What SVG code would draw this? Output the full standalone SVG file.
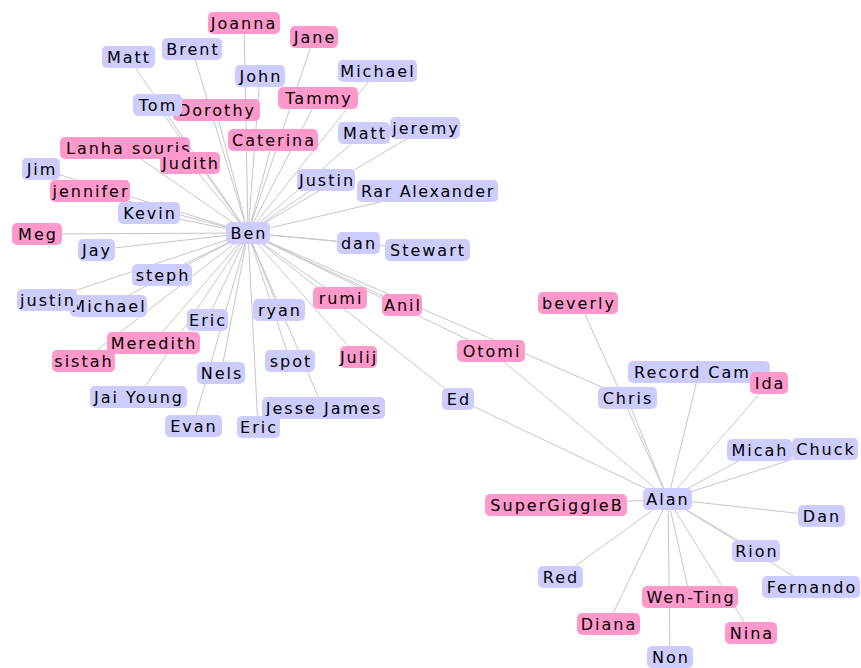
<svg xmlns="http://www.w3.org/2000/svg" width="861" height="668" viewBox="0 0 861 668">
<style>
.e line{stroke:#c6c6c6;stroke-width:1}
rect{rx:5;ry:5}
.b rect{fill:#ccccff}
.p rect{fill:#ff99cc}
text{font-family:"DejaVu Sans","Verdana",sans-serif;font-size:16px;letter-spacing:2px;fill:#000;text-anchor:middle}
text.l{text-anchor:start}
</style>
<rect width="861" height="668" fill="#ffffff" rx="0" ry="0"/>
<g id="connectors" class="e">
<line x1="248" y1="233" x2="244" y2="23"/>
<line x1="248" y1="233" x2="314" y2="37"/>
<line x1="248" y1="233" x2="128" y2="57"/>
<line x1="248" y1="233" x2="192" y2="49"/>
<line x1="248" y1="233" x2="260" y2="76"/>
<line x1="248" y1="233" x2="377" y2="71"/>
<line x1="248" y1="233" x2="157" y2="105"/>
<line x1="248" y1="233" x2="216" y2="110"/>
<line x1="248" y1="233" x2="318" y2="98"/>
<line x1="248" y1="233" x2="273" y2="140"/>
<line x1="248" y1="233" x2="364" y2="133"/>
<line x1="248" y1="233" x2="425" y2="128"/>
<line x1="248" y1="233" x2="125" y2="148"/>
<line x1="248" y1="233" x2="190" y2="163"/>
<line x1="248" y1="233" x2="326" y2="180"/>
<line x1="248" y1="233" x2="427" y2="191"/>
<line x1="248" y1="233" x2="41" y2="169"/>
<line x1="248" y1="233" x2="90" y2="191"/>
<line x1="248" y1="233" x2="149" y2="213"/>
<line x1="248" y1="233" x2="37" y2="234"/>
<line x1="248" y1="233" x2="96" y2="250"/>
<line x1="248" y1="233" x2="162" y2="275"/>
<line x1="248" y1="233" x2="47" y2="300"/>
<line x1="248" y1="233" x2="108" y2="306"/>
<line x1="248" y1="233" x2="207" y2="320"/>
<line x1="248" y1="233" x2="153" y2="343"/>
<line x1="248" y1="233" x2="83" y2="361"/>
<line x1="248" y1="233" x2="221" y2="373"/>
<line x1="248" y1="233" x2="138" y2="397"/>
<line x1="248" y1="233" x2="193" y2="426"/>
<line x1="248" y1="233" x2="258" y2="427"/>
<line x1="248" y1="233" x2="279" y2="310"/>
<line x1="248" y1="233" x2="290" y2="361"/>
<line x1="248" y1="233" x2="323" y2="408"/>
<line x1="248" y1="233" x2="358" y2="243"/>
<line x1="248" y1="233" x2="427" y2="250"/>
<line x1="248" y1="233" x2="340" y2="298"/>
<line x1="248" y1="233" x2="358" y2="357"/>
<line x1="248" y1="233" x2="402" y2="305"/>
<line x1="248" y1="233" x2="491" y2="351"/>
<line x1="248" y1="233" x2="458" y2="399"/>
<line x1="248" y1="233" x2="627" y2="398"/>
<line x1="668" y1="499" x2="458" y2="399"/>
<line x1="668" y1="499" x2="491" y2="351"/>
<line x1="668" y1="499" x2="627" y2="398"/>
<line x1="668" y1="499" x2="580" y2="303"/>
<line x1="668" y1="499" x2="699" y2="372"/>
<line x1="668" y1="499" x2="769" y2="383"/>
<line x1="668" y1="499" x2="759" y2="450"/>
<line x1="668" y1="499" x2="825" y2="449"/>
<line x1="668" y1="499" x2="822" y2="516"/>
<line x1="668" y1="499" x2="756" y2="551"/>
<line x1="668" y1="499" x2="811" y2="587"/>
<line x1="668" y1="499" x2="690" y2="597"/>
<line x1="668" y1="499" x2="751" y2="633"/>
<line x1="668" y1="499" x2="670" y2="657"/>
<line x1="668" y1="499" x2="608" y2="624"/>
<line x1="668" y1="499" x2="560" y2="577"/>
<line x1="668" y1="499" x2="556" y2="505"/>
</g>
<g id="n-joanna" class="p"><rect x="208" y="12" width="72" height="22"/><text x="244" y="28.5">Joanna</text></g>
<g id="n-jane" class="p"><rect x="290" y="26" width="48" height="22"/><text x="315" y="42.5">Jane</text></g>
<g id="n-matt1" class="b"><rect x="102" y="46" width="53" height="22"/><text x="129" y="62.5">Matt</text></g>
<g id="n-brent" class="b"><rect x="162" y="38" width="60" height="22"/><text x="193" y="54.5">Brent</text></g>
<g id="n-john" class="b"><rect x="235" y="65" width="50" height="22"/><text x="261" y="81.5">John</text></g>
<g id="n-michael1" class="b"><rect x="338" y="60" width="79" height="22"/><text x="378" y="76.5">Michael</text></g>
<g id="n-dorothy" class="p"><rect x="173" y="99" width="87" height="22"/><text x="217" y="115.5">Dorothy</text></g>
<g id="n-tom" class="b"><rect x="133" y="94" width="49" height="22"/><text x="158" y="110.5">Tom</text></g>
<g id="n-tammy" class="p"><rect x="278" y="87" width="80" height="22"/><text x="319" y="103.5">Tammy</text></g>
<g id="n-caterina" class="p"><rect x="228" y="129" width="90" height="22"/><text x="274" y="145.5">Caterina</text></g>
<g id="n-jeremy" class="b"><rect x="390" y="117" width="70" height="22"/><text x="426" y="133.5">jeremy</text></g>
<g id="n-matt2" class="b"><rect x="338" y="122" width="52" height="22"/><text x="365" y="138.5">Matt</text></g>
<g id="n-lanha" class="p"><rect x="60" y="137" width="130" height="22"/><text class="l" x="66" y="153.5">Lanha souris</text></g>
<g id="n-judith" class="p"><rect x="160" y="152" width="60" height="22"/><text x="191" y="168.5">Judith</text></g>
<g id="n-justin1" class="b"><rect x="297" y="169" width="58" height="22"/><text x="327" y="185.5">Justin</text></g>
<g id="n-rar" class="b"><rect x="357" y="180" width="141" height="22"/><text x="428" y="196.5" style="letter-spacing:1.6px">Rar Alexander</text></g>
<g id="n-jim" class="b"><rect x="22" y="158" width="38" height="22"/><text x="42" y="174.5">Jim</text></g>
<g id="n-jennifer" class="p"><rect x="50" y="180" width="80" height="22"/><text x="91" y="196.5">jennifer</text></g>
<g id="n-kevin" class="b"><rect x="118" y="202" width="62" height="22"/><text x="150" y="218.5">Kevin</text></g>
<g id="n-ben" class="b"><rect x="226" y="222" width="44" height="22"/><text x="249" y="238.5">Ben</text></g>
<g id="n-meg" class="p"><rect x="12" y="223" width="50" height="22"/><text x="38" y="239.5">Meg</text></g>
<g id="n-jay" class="b"><rect x="78" y="239" width="37" height="22"/><text x="97" y="255.5">Jay</text></g>
<g id="n-steph" class="b"><rect x="132" y="264" width="60" height="22"/><text x="163" y="280.5">steph</text></g>
<g id="n-dan" class="b"><rect x="337" y="232" width="43" height="22"/><text x="359" y="248.5">dan</text></g>
<g id="n-stewart" class="b"><rect x="385" y="239" width="85" height="22"/><text x="428" y="255.5">Stewart</text></g>
<g id="n-michael2" class="b"><rect x="70" y="295" width="77" height="22"/><text x="109" y="311.5">Michael</text></g>
<g id="n-justin2" class="b"><rect x="17" y="289" width="60" height="22"/><text x="48" y="305.5">justin</text></g>
<g id="n-eric1" class="b"><rect x="187" y="309" width="41" height="22"/><text x="208" y="325.5">Eric</text></g>
<g id="n-ryan" class="b"><rect x="253" y="299" width="52" height="22"/><text x="280" y="315.5">ryan</text></g>
<g id="n-rumi" class="p"><rect x="313" y="287" width="54" height="22"/><text x="341" y="303.5">rumi</text></g>
<g id="n-anil" class="p"><rect x="382" y="294" width="40" height="22"/><text x="403" y="310.5">Anil</text></g>
<g id="n-meredith" class="p"><rect x="107" y="332" width="93" height="22"/><text x="154" y="348.5">Meredith</text></g>
<g id="n-sistah" class="p"><rect x="52" y="350" width="63" height="22"/><text x="84" y="366.5">sistah</text></g>
<g id="n-nels" class="b"><rect x="197" y="362" width="48" height="22"/><text x="222" y="378.5">Nels</text></g>
<g id="n-spot" class="b"><rect x="265" y="350" width="50" height="22"/><text x="291" y="366.5">spot</text></g>
<g id="n-julij" class="p"><rect x="340" y="346" width="37" height="22"/><text x="359" y="362.5">Julij</text></g>
<g id="n-jaiyoung" class="b"><rect x="90" y="386" width="97" height="22"/><text x="139" y="402.5">Jai Young</text></g>
<g id="n-jessejames" class="b"><rect x="262" y="397" width="123" height="22"/><text x="324" y="413.5">Jesse James</text></g>
<g id="n-evan" class="b"><rect x="165" y="415" width="57" height="22"/><text x="194" y="431.5">Evan</text></g>
<g id="n-eric2" class="b"><rect x="237" y="416" width="43" height="22"/><text x="259" y="432.5">Eric</text></g>
<g id="n-ed" class="b"><rect x="442" y="388" width="32" height="22"/><text x="459" y="404.5">Ed</text></g>
<g id="n-otomi" class="p"><rect x="457" y="340" width="68" height="22"/><text x="492" y="356.5">Otomi</text></g>
<g id="n-beverly" class="p"><rect x="538" y="292" width="80" height="22"/><text x="579" y="308.5">beverly</text></g>
<g id="n-chris" class="b"><rect x="598" y="387" width="59" height="22"/><text x="628" y="403.5">Chris</text></g>
<g id="n-recordcam" class="b"><rect x="628" y="361" width="142" height="22"/><text class="l" x="634" y="377.5">Record Cam</text></g>
<g id="n-ida" class="p"><rect x="750" y="372" width="38" height="22"/><text x="770" y="388.5">Ida</text></g>
<g id="n-micah" class="b"><rect x="727" y="439" width="65" height="22"/><text x="760" y="455.5">Micah</text></g>
<g id="n-chuck" class="b"><rect x="792" y="438" width="66" height="22"/><text x="826" y="454.5">Chuck</text></g>
<g id="n-alan" class="b"><rect x="643" y="488" width="49" height="22"/><text x="668" y="504.5">Alan</text></g>
<g id="n-supergiggleb" class="p"><rect x="485" y="494" width="142" height="22"/><text x="557" y="510.5">SuperGiggleB</text></g>
<g id="n-dan2" class="b"><rect x="798" y="505" width="47" height="22"/><text x="822" y="521.5">Dan</text></g>
<g id="n-rion" class="b"><rect x="732" y="540" width="48" height="22"/><text x="757" y="556.5">Rion</text></g>
<g id="n-red" class="b"><rect x="538" y="566" width="45" height="22"/><text x="561" y="582.5">Red</text></g>
<g id="n-fernando" class="b"><rect x="762" y="576" width="98" height="22"/><text x="812" y="592.5">Fernando</text></g>
<g id="n-wenting" class="p"><rect x="642" y="586" width="96" height="22"/><text x="691" y="602.5">Wen-Ting</text></g>
<g id="n-diana" class="p"><rect x="577" y="613" width="63" height="22"/><text x="609" y="629.5">Diana</text></g>
<g id="n-nina" class="p"><rect x="725" y="622" width="52" height="22"/><text x="752" y="638.5">Nina</text></g>
<g id="n-non" class="b"><rect x="647" y="646" width="46" height="22"/><text x="671" y="662.5">Non</text></g>
</svg>
